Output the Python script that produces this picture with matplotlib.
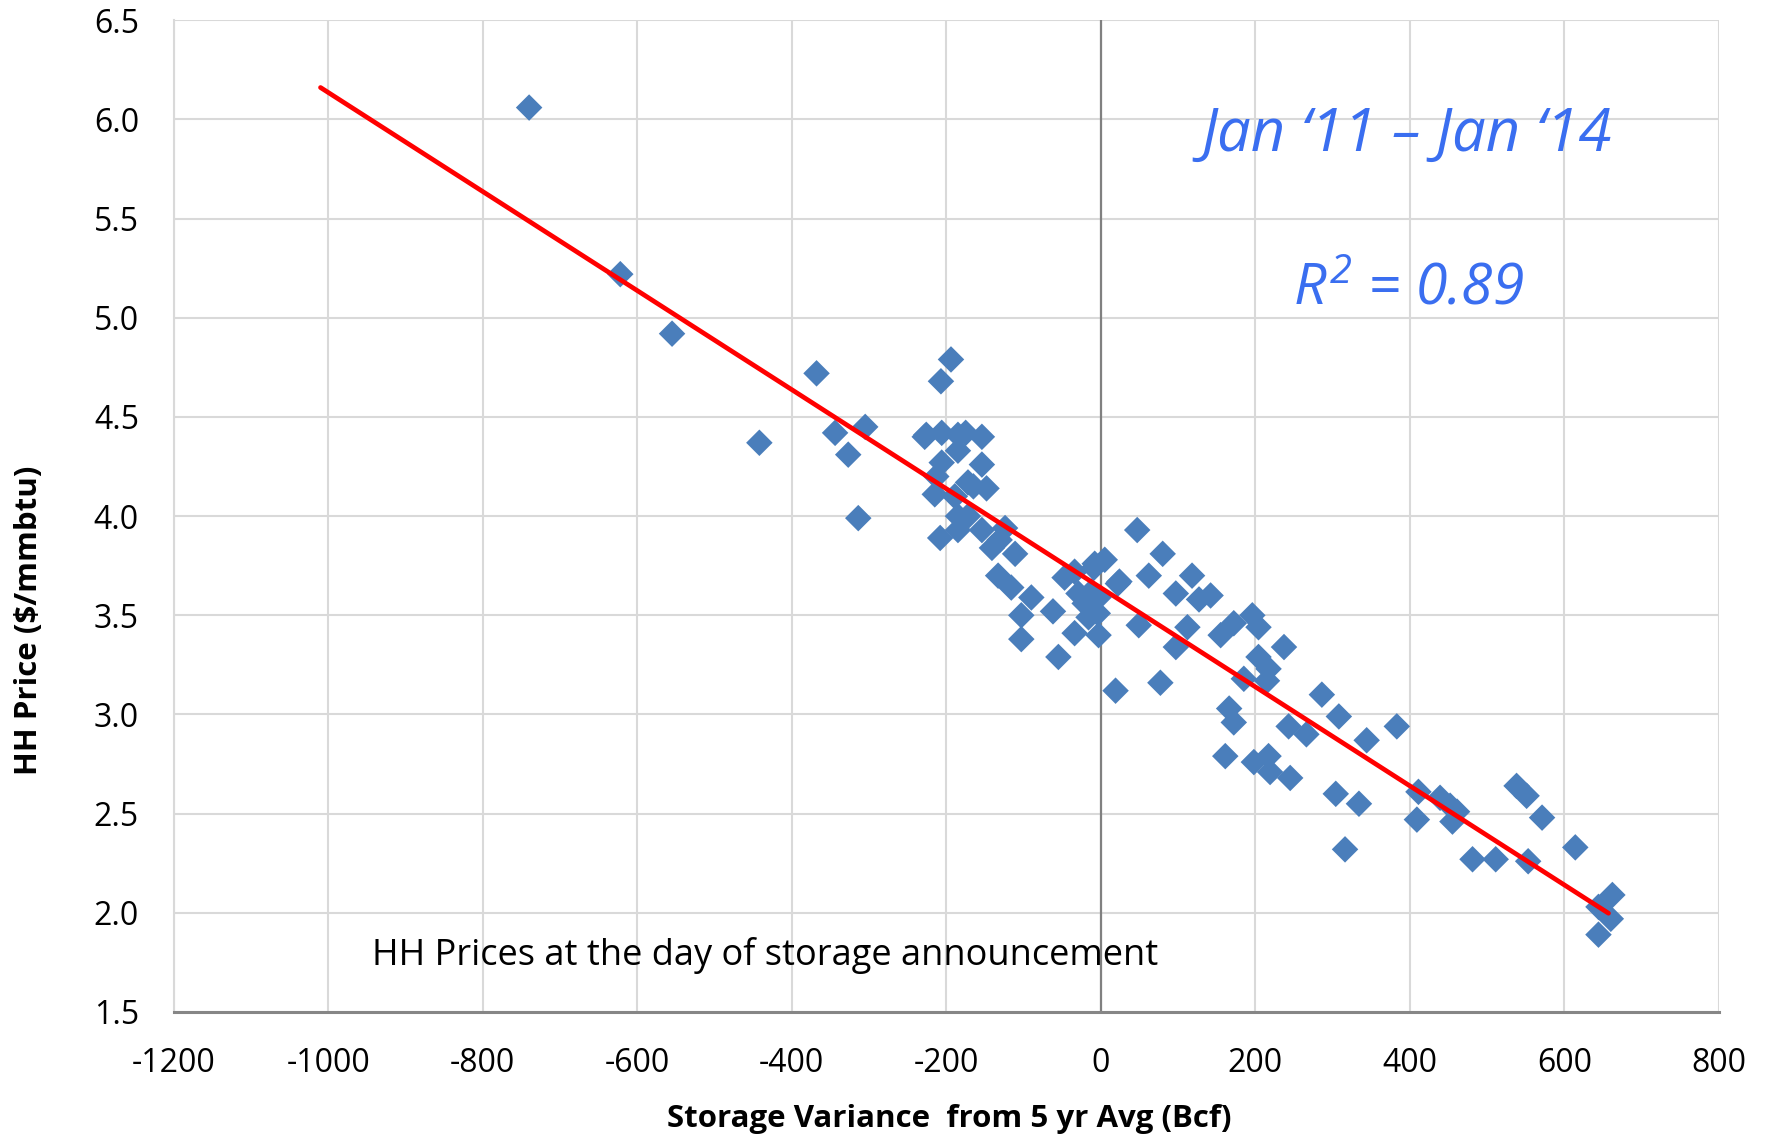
import numpy as np
import matplotlib
matplotlib.use("Agg")
import matplotlib.pyplot as plt
from matplotlib import font_manager

# ---------------- data ----------------
storage_var = [
    -740, -622, -555, -442, -368, -344, -327, -314, -305, -228,
    -194, -207, -226, -206, -185, -175, -154, -185, -206, -154,
    -213, -172, -148, -215, -189, -165, -185, -172, -208, -185,
    -124, -154, -141, -131, -111, -133, -116, -90, -103, -103,
    -62, -55, -47, -34, -29, -16, -34, -8, 5, 22,
    -3, -21, -12, -3, -4, -9, 47, 80, 62, 24,
    118, 97, 127, 142, 49, 112, 97, 155, 172, 196,
    204, 237, 204, 217, 215, 185, 19, 77, 166, 172,
    286, 308, 243, 266, 344, 383, 161, 198, 217, 219,
    245, 304, 334, 316, 411, 439, 452, 461, 409, 455,
    538, 551, 571, 614, 481, 511, 553, 662, 644, 660,
    644,
]
hh_price = [
    6.06, 5.22, 4.92, 4.37, 4.72, 4.42, 4.31, 3.99, 4.45, 4.40,
    4.79, 4.68, 4.41, 4.42, 4.41, 4.42, 4.40, 4.33, 4.27, 4.26,
    4.20, 4.17, 4.14, 4.11, 4.10, 4.15, 4.00, 4.00, 3.89, 3.93,
    3.94, 3.93, 3.84, 3.88, 3.81, 3.70, 3.64, 3.59, 3.50, 3.38,
    3.52, 3.29, 3.69, 3.72, 3.61, 3.49, 3.41, 3.76, 3.78, 3.66,
    3.40, 3.56, 3.62, 3.59, 3.51, 3.74, 3.93, 3.81, 3.70, 3.67,
    3.70, 3.61, 3.58, 3.60, 3.45, 3.44, 3.34, 3.40, 3.46, 3.50,
    3.44, 3.34, 3.29, 3.23, 3.17, 3.18, 3.12, 3.16, 3.03, 2.96,
    3.10, 2.99, 2.94, 2.90, 2.87, 2.94, 2.79, 2.76, 2.79, 2.71,
    2.68, 2.60, 2.55, 2.32, 2.61, 2.58, 2.54, 2.51, 2.47, 2.46,
    2.64, 2.59, 2.48, 2.33, 2.27, 2.27, 2.26, 2.09, 2.03, 1.97,
    1.89,
]
trend_x_start = -1010          # Excel trendline extended backwards
x_ticks = [-1200, -1000, -800, -600, -400, -200, 0, 200, 400, 600, 800]
y_ticks = [1.5, 2.0, 2.5, 3.0, 3.5, 4.0, 4.5, 5.0, 5.5, 6.0, 6.5]
period_label = "Jan \u201811 \u2013 Jan \u201814"
r2_label = "$R^2$ = 0.89"
note_label = "HH Prices at the day of storage announcement"
x_label = "Storage Variance  from 5 yr Avg (Bcf)"
y_label = "HH Price ($/mmbtu)"

# ---------------- fonts ----------------
available = {f.name for f in font_manager.fontManager.ttflist}
narrow = 'Liberation Sans Narrow' if 'Liberation Sans Narrow' in available else 'Open Sans'
plt.rcParams['font.family'] = ['Open Sans', 'DejaVu Sans']
plt.rcParams['mathtext.fontset'] = 'custom'
plt.rcParams['mathtext.it'] = 'Open Sans:italic'
plt.rcParams['mathtext.rm'] = 'Open Sans:italic'

# ---------------- figure ----------------
W, H = 1769, 1140
fig = plt.figure(figsize=(W / 100, H / 100), dpi=100)
ax = fig.add_axes([173.7 / W, 1 - 1012 / H, (1719 - 173.7) / W, (1012 - 20.3) / H])

ax.set_xlim(-1200, 800)
ax.set_ylim(1.5, 6.5)
ax.set_xticks(x_ticks)
ax.set_yticks(y_ticks)
ax.set_xticklabels([str(v) for v in x_ticks])
ax.set_yticklabels([f"{v:.1f}" for v in y_ticks])
ax.grid(True, color='#D9D9D9', linewidth=1.5, zorder=0)
ax.set_axisbelow(True)
for s in ['top', 'right']:
    ax.spines[s].set_visible(False)
ax.spines['left'].set_color('#D9D9D9')
ax.spines['left'].set_linewidth(1.5)
ax.spines['bottom'].set_color('#868686')
ax.spines['bottom'].set_linewidth(2.2)
ax.axvline(0, color='#808080', linewidth=1.6, zorder=1)
ax.tick_params(length=0, labelsize=23, colors='black')
ax.tick_params(axis='y', pad=25)
ax.tick_params(axis='x', pad=25)

ax.scatter(storage_var, hh_price, marker='D', s=13.5 ** 2, color='#4A7EBB',
           edgecolors='none', zorder=3)

# linear trendline
coef = np.polyfit(storage_var, hh_price, 1)
tx = np.array([trend_x_start, max(storage_var) - 5])
ax.plot(tx, np.polyval(coef, tx), color='#FF0000', linewidth=3.4,
        solid_capstyle='round', zorder=4)

blue = '#3A6EF0'
ax.text(1407 / W, 1 - 135 / H, period_label, transform=fig.transFigure,
        ha='center', va='center', fontsize=43, color=blue, style='italic')
ax.text(1409 / W, 1 - 290 / H, r2_label, transform=fig.transFigure,
        ha='center', va='center', fontsize=41, color=blue, style='italic')
ax.text(765 / W, 1 - 955 / H, note_label, transform=fig.transFigure,
        ha='center', va='center', fontsize=26, color='black')

fig.text(949 / W, 1 - 1119 / H, x_label, ha='center', va='center',
         fontsize=22.5, fontweight='bold', family=[narrow, 'DejaVu Sans'])
fig.text(29 / W, 1 - 620 / H, y_label, ha='center', va='center', rotation=90,
         fontsize=22.5, fontweight='bold', family=[narrow, 'DejaVu Sans'])

fig.savefig('out.png', dpi=100, facecolor='white')
